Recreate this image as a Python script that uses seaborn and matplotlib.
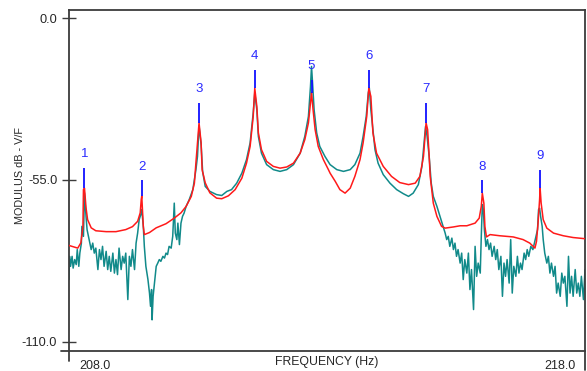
import numpy as np
import pandas as pd
import matplotlib
matplotlib.use("Agg")
import matplotlib.pyplot as plt
from matplotlib.transforms import ScaledTranslation
import seaborn as sns

# Measured frequency response (Hz, dB)
meas_freq = [
    208.00, 208.01, 208.03, 208.06, 208.08, 208.11, 208.14, 208.16, 208.19, 208.21,
    208.24, 208.25, 208.28, 208.30, 208.33, 208.35, 208.39, 208.43, 208.46, 208.49,
    208.52, 208.56, 208.59, 208.62, 208.65, 208.68, 208.72, 208.75, 208.78, 208.81,
    208.85, 208.88, 208.91, 208.94, 208.97, 209.01, 209.04, 209.07, 209.10, 209.14,
    209.17, 209.20, 209.23, 209.27, 209.30, 209.33, 209.36, 209.40, 209.41, 209.44,
    209.46, 209.49, 209.53, 209.56, 209.58, 209.60, 209.61, 209.63, 209.65, 209.69,
    209.72, 209.75, 209.78, 209.82, 209.85, 209.88, 209.91, 209.94, 209.98, 210.01,
    210.04, 210.06, 210.09, 210.11, 210.14, 210.17, 210.20, 210.23, 210.27, 210.33,
    210.40, 210.46, 210.49, 210.52, 210.56, 210.59, 210.64, 210.73, 210.86, 210.96,
    211.06, 211.15, 211.25, 211.35, 211.44, 211.51, 211.57, 211.60, 211.64, 211.67,
    211.73, 211.83, 211.96, 212.09, 212.22, 212.35, 212.48, 212.57, 212.64, 212.68,
    212.70, 212.72, 212.75, 212.80, 212.86, 212.96, 213.06, 213.19, 213.32, 213.45,
    213.54, 213.64, 213.70, 213.76, 213.80, 213.82, 213.85, 213.89, 213.93, 213.99,
    214.09, 214.22, 214.35, 214.48, 214.58, 214.67, 214.77, 214.84, 214.88, 214.91,
    214.94, 214.98, 215.02, 215.06, 215.13, 215.19, 215.25, 215.29, 215.32, 215.35,
    215.38, 215.42, 215.45, 215.48, 215.51, 215.54, 215.58, 215.61, 215.64, 215.67,
    215.71, 215.74, 215.77, 215.80, 215.84, 215.87, 215.90, 215.93, 215.97, 215.99,
    216.01, 216.03, 216.05, 216.08, 216.11, 216.14, 216.17, 216.20, 216.24, 216.27,
    216.30, 216.33, 216.37, 216.40, 216.43, 216.46, 216.49, 216.53, 216.56, 216.59,
    216.62, 216.66, 216.69, 216.72, 216.75, 216.78, 216.82, 216.85, 216.88, 216.91,
    216.95, 216.99, 217.02, 217.05, 217.08, 217.10, 217.12, 217.14, 217.17, 217.19,
    217.22, 217.26, 217.29, 217.32, 217.35, 217.39, 217.42, 217.45, 217.48, 217.52,
    217.55, 217.58, 217.61, 217.65, 217.68, 217.71, 217.74, 217.77, 217.81, 217.84,
    217.87, 217.90, 217.93, 217.97, 218.00,
]
meas_db = [
    -88.9, -81.0, -84.4, -81.0, -85.0, -82.1, -83.8, -78.7, -84.4, -79.9,
    -76.5, -70.8, -74.2, -59.4, -67.4, -71.9, -75.3, -78.7, -76.5, -79.9,
    -78.2, -85.5, -78.7, -82.1, -77.6, -84.4, -79.3, -85.5, -81.0, -86.1,
    -79.9, -86.7, -82.1, -87.2, -78.2, -85.5, -81.0, -83.3, -79.9, -95.7,
    -81.0, -84.4, -78.7, -85.5, -76.5, -73.1, -68.5, -66.3, -65.1, -70.8,
    -77.6, -84.4, -88.9, -93.5, -98.0, -92.3, -102.6, -94.6, -91.2, -84.4,
    -83.3, -82.1, -82.7, -81.0, -81.6, -79.9, -80.4, -77.6, -78.2, -74.2,
    -62.9, -73.1, -75.3, -69.7, -77.0, -69.7, -67.4, -66.3, -64.0, -61.7,
    -58.3, -51.5, -47.0, -36.6, -43.0, -52.2, -57.2, -58.9, -60.0, -60.3,
    -58.9, -58.3, -56.1, -52.7, -48.1, -42.4, -32.2, -25.4, -31.1, -40.2,
    -45.9, -49.8, -51.5, -52.1, -51.5, -49.8, -45.9, -40.2, -33.4, -23.2,
    -16.4, -22.0, -31.1, -39.0, -43.6, -47.0, -49.8, -51.5, -52.1, -51.5,
    -49.8, -45.9, -40.2, -33.4, -25.4, -23.7, -31.1, -37.9, -44.7, -49.3,
    -53.2, -56.1, -58.3, -59.7, -60.6, -59.5, -56.6, -50.4, -42.4, -36.8,
    -40.2, -47.0, -56.1, -60.6, -64.0, -67.4, -70.8, -73.1, -75.3, -74.2,
    -77.6, -74.8, -78.7, -76.5, -81.0, -78.7, -83.3, -79.9, -88.9, -82.1,
    -86.7, -79.9, -92.3, -85.5, -99.1, -77.6, -87.8, -83.3, -86.7, -74.2,
    -63.4, -65.1, -71.9, -77.6, -75.3, -78.7, -76.5, -81.0, -77.6, -82.1,
    -78.7, -85.5, -81.0, -94.6, -83.3, -87.8, -82.1, -90.1, -75.3, -93.5,
    -84.4, -87.8, -81.0, -86.7, -83.3, -85.5, -79.9, -82.1, -78.7, -81.0,
    -77.6, -78.7, -76.5, -74.2, -71.9, -65.1, -64.6, -67.4, -70.8, -75.3,
    -79.9, -83.3, -81.0, -86.7, -83.3, -87.8, -84.4, -93.5, -90.1, -94.6,
    -86.7, -90.1, -87.8, -98.0, -81.0, -93.5, -87.8, -94.6, -85.5, -93.5,
    -90.1, -94.6, -87.8, -95.7, -85.5,
]

# Synthesised (curve-fit) response
fit_freq = [
    208.00, 208.17, 208.23, 208.27, 208.28, 208.30, 208.33, 208.36, 208.43, 208.52,
    208.72, 208.91, 209.10, 209.23, 209.33, 209.38, 209.40, 209.41, 209.44, 209.46,
    209.56, 209.69, 209.88, 210.04, 210.17, 210.27, 210.37, 210.43, 210.46, 210.48,
    210.52, 210.56, 210.58, 210.64, 210.73, 210.86, 210.96, 211.09, 211.22, 211.35,
    211.44, 211.51, 211.57, 211.60, 211.64, 211.67, 211.73, 211.83, 211.96, 212.09,
    212.22, 212.35, 212.48, 212.57, 212.64, 212.68, 212.70, 212.73, 212.77, 212.83,
    212.93, 213.03, 213.06, 213.16, 213.25, 213.35, 213.45, 213.54, 213.64, 213.70,
    213.77, 213.81, 213.85, 213.89, 213.96, 214.09, 214.25, 214.41, 214.58, 214.71,
    214.80, 214.87, 214.90, 214.92, 214.95, 214.98, 215.00, 215.06, 215.13, 215.22,
    215.29, 215.45, 215.58, 215.71, 215.87, 215.95, 215.99, 216.01, 216.04, 216.06,
    216.09, 216.16, 216.35, 216.61, 216.80, 216.93, 217.03, 217.06, 217.09, 217.12,
    217.13, 217.15, 217.19, 217.26, 217.39, 217.58, 217.77, 218.00,
]
fit_db = [
    -77.3, -78.2, -76.4, -70.8, -58.3, -57.8, -64.5, -68.5, -71.3, -72.3,
    -72.6, -72.6, -71.9, -70.9, -69.1, -66.2, -61.7, -60.5, -70.8, -73.6,
    -72.9, -71.3, -69.9, -68.0, -66.2, -64.0, -60.6, -56.1, -49.1, -44.7,
    -35.6, -42.3, -51.5, -56.0, -59.4, -61.2, -61.4, -60.4, -58.3, -54.4,
    -49.3, -43.6, -33.4, -23.8, -30.0, -39.0, -44.7, -48.7, -50.4, -51.0,
    -50.6, -49.3, -45.9, -41.3, -35.6, -28.8, -25.3, -31.1, -37.9, -43.6,
    -48.1, -51.6, -52.7, -55.5, -58.3, -59.5, -57.8, -53.8, -48.1, -42.4,
    -33.4, -23.8, -26.6, -39.0, -45.9, -50.4, -53.8, -55.9, -56.6, -56.1,
    -53.8, -47.0, -40.2, -35.6, -37.9, -47.0, -53.8, -62.9, -67.4, -70.8,
    -71.4, -71.0, -70.6, -70.6, -69.7, -68.0, -64.0, -59.5, -62.9, -70.8,
    -74.4, -73.6, -74.0, -74.4, -75.3, -76.5, -78.2, -75.9, -69.7, -61.7,
    -57.8, -62.9, -68.5, -71.4, -73.1, -74.0, -74.6, -75.0,
]

# Identified modes: frequency, fitted peak level and marker top (dB)
mode_labels = ["1", "2", "3", "4", "5", "6", "7", "8", "9"]
mode_freq = [208.30, 209.41, 210.52, 211.60, 212.70, 213.81, 214.92, 216.01, 217.13]
mode_peak_db = [-57.8, -60.5, -35.6, -23.8, -25.3, -23.8, -35.6, -59.5, -57.8]
mode_top_db = [-50.9, -55.2, -28.8, -17.5, -20.9, -17.5, -28.8, -55.2, -51.5]

y_ticks = [0.0, -55.0, -110.0]
x_ticks = [208.0, 218.0]

sns.set_style("white")
plt.rcParams["font.family"] = ["Liberation Sans", "DejaVu Sans"]

fig = plt.figure(figsize=(5.87, 3.71), dpi=100)
ax = fig.add_axes([69 / 587, 1 - 351 / 371, 516 / 587, 341 / 371])

meas = pd.DataFrame({"freq": meas_freq, "db": meas_db})
fit = pd.DataFrame({"freq": fit_freq, "db": fit_db})

sns.lineplot(data=meas, x="freq", y="db", color="#118a8a", linewidth=1.1,
             estimator=None, sort=False, ax=ax, zorder=2)
sns.lineplot(data=fit, x="freq", y="db", color="#ff1a1a", linewidth=1.1,
             estimator=None, sort=False, ax=ax, zorder=3)
ax.vlines(mode_freq, mode_peak_db, mode_top_db, color="#1010ff", linewidth=1.3, zorder=4)
for lab, f, top in zip(mode_labels, mode_freq, mode_top_db):
    ax.annotate(lab, (f, top), xytext=(0, 7.5), textcoords="offset points",
                ha="center", va="baseline", color="#2a2aff", fontsize=9.5)

ax.set_xlim(208.0, 218.0)
ax.set_ylim(-113.2, 2.8)

ax.set_yticks(y_ticks)
ax.set_yticklabels([f"{v:.1f}" for v in y_ticks])
ax.tick_params(axis="y", direction="inout", length=10, width=1.0, color="#3c3c3c",
               labelsize=9.2, pad=3.5, left=True)
ax.set_xticks(x_ticks)
ax.set_xticklabels([f"{v:.1f}" for v in x_ticks])
ax.tick_params(axis="x", length=0, labelsize=9.0, pad=6.5)
for lbl, ha, dx in zip(ax.get_xticklabels(), ["left", "right"], [10, -9]):
    lbl.set_ha(ha)
    lbl.set_transform(lbl.get_transform() + ScaledTranslation(dx / 100, 0, fig.dpi_scale_trans))

ax.set_xlabel("FREQUENCY (Hz)", fontsize=8.8)
ax.xaxis.set_label_coords(0.5, -0.014)
ax.set_ylabel("MODULUS dB - V/F", fontsize=7.8)
ax.yaxis.set_label_coords(-0.085, 0.516)

for sp in ax.spines.values():
    sp.set_visible(True)
    sp.set_color("#3c3c3c")
    sp.set_linewidth(1.3)

# frame corners run slightly past the plot box
for xs, ys in (([0, 0], [0, -0.028]), ([1, 1], [0, -0.055]), ([-0.016, 0], [0, 0])):
    ax.plot(xs, ys, transform=ax.transAxes, clip_on=False, color="#3c3c3c", linewidth=1.3)

fig.savefig("out.png", dpi=100)
